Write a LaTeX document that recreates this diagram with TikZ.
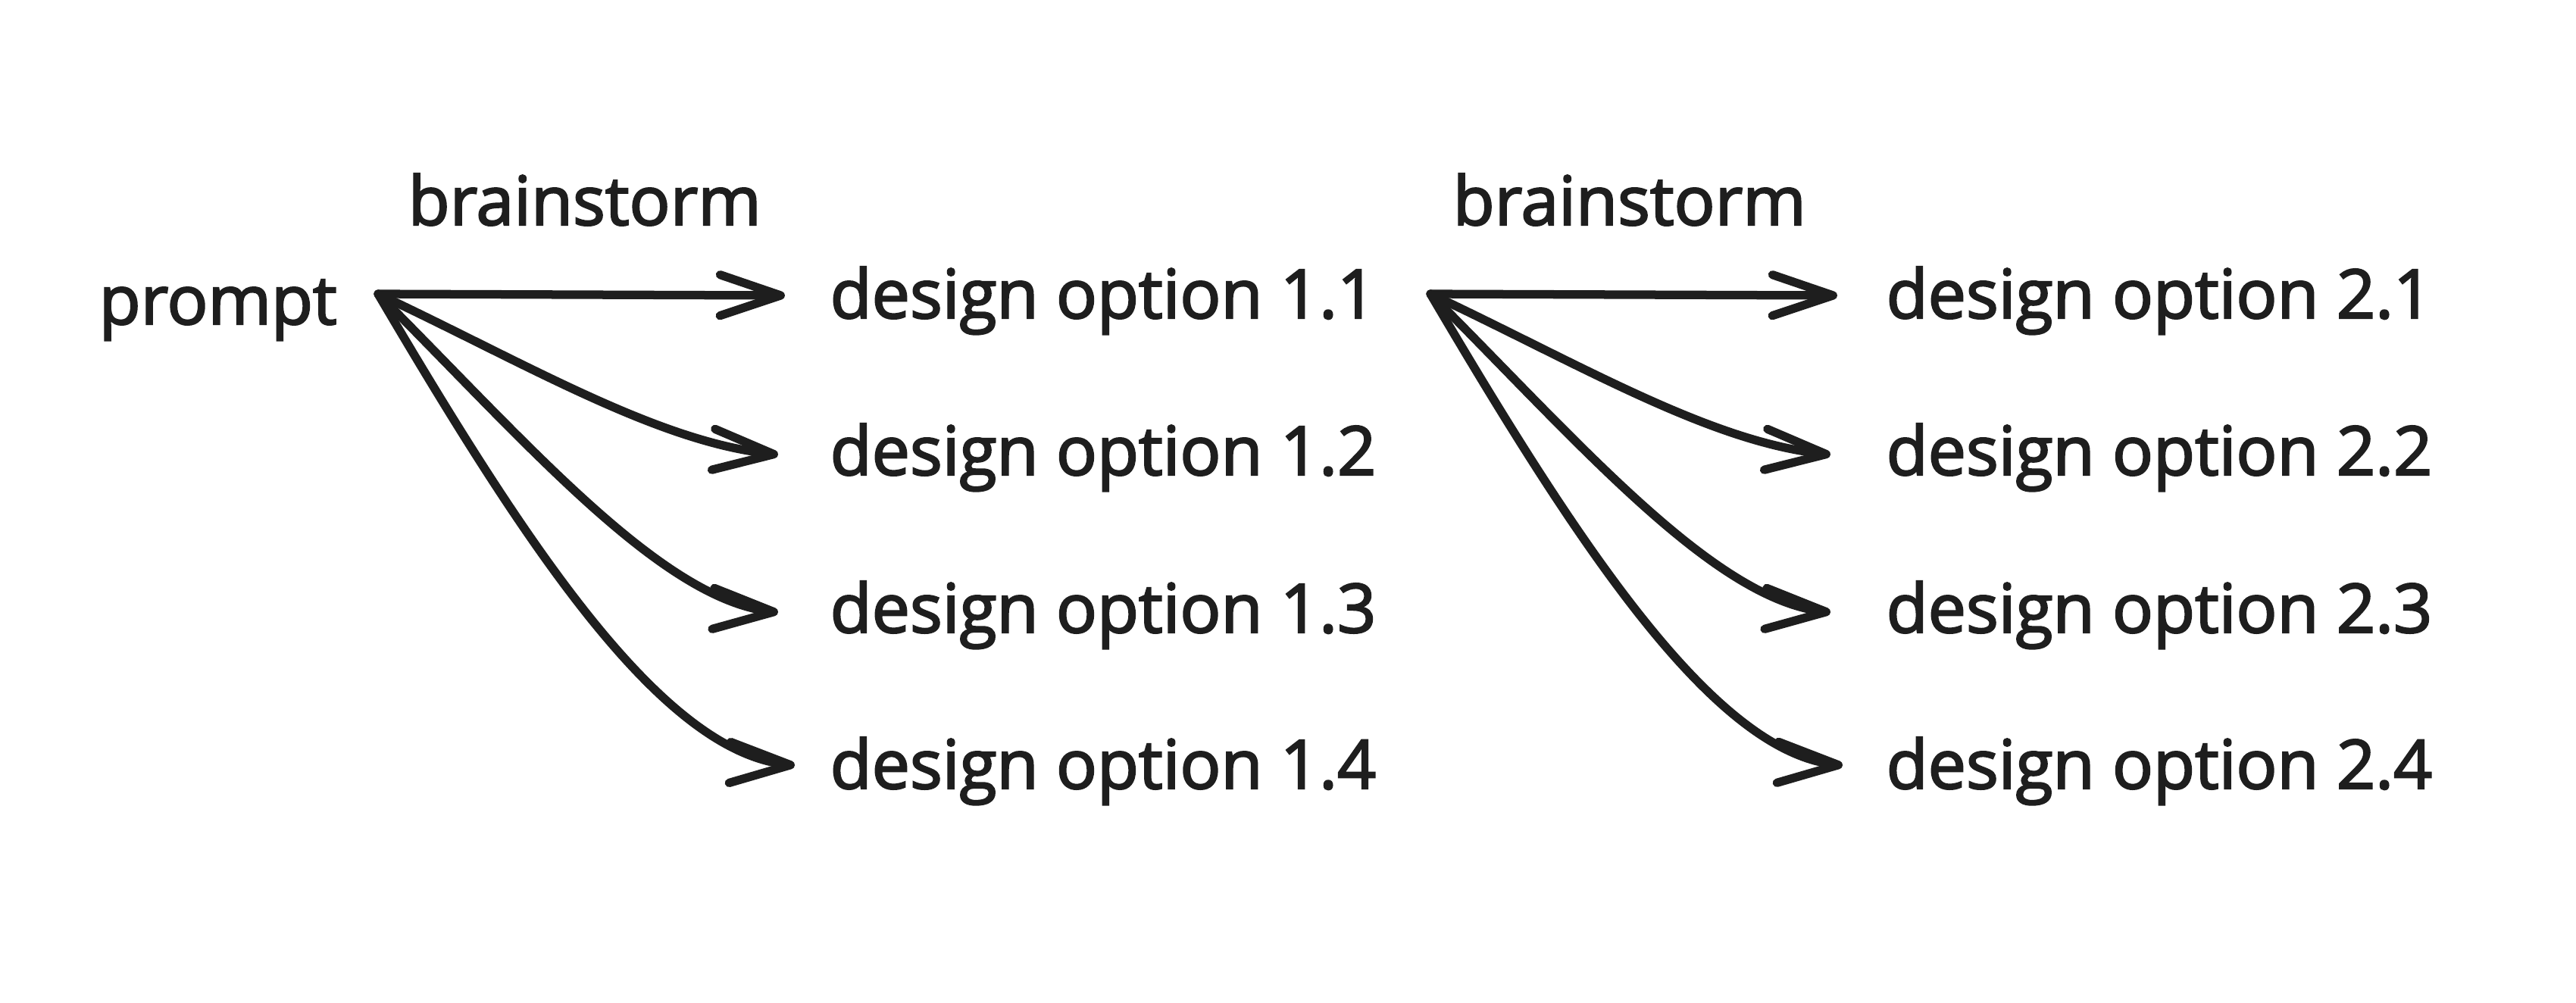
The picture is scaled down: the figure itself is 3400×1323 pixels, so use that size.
\documentclass[tikz,border=0pt]{standalone}
\usepackage{fontspec}
\setmainfont{Open Sans}[FakeBold=2.5]
\usetikzlibrary{arrows.meta,bending}
\definecolor{ink}{HTML}{1E1E1E}
\begin{document}
\begin{tikzpicture}[x=0.01cm,y=-0.01cm,
  lbl/.style={inner sep=0pt,anchor=base west,text=ink,font=\fontsize{25.5}{30}\selectfont},
  conn/.style={draw=ink,line width=3.2pt,line cap=round,line join=round,
    -{Straight Barb[length=0.8cm,width=0.54cm,line cap=round,line join=round,flex]}}]
\useasboundingbox[fill=white] (0,0) rectangle (3400,1323);
% nodes
\node[lbl] (prompt) at (130,428) {prompt};
\node[lbl] (b1) at (538,297) {brainstorm};
\node[lbl] (b2) at (1917,297) {brainstorm};
\node[lbl] (d11) at (1095,420) {design option 1.1};
\node[lbl] (d12) at (1095,627) {design option 1.2};
\node[lbl] (d13) at (1095,835) {design option 1.3};
\node[lbl] (d14) at (1095,1041) {design option 1.4};
\node[lbl] (d21) at (2489,420) {design option 2.1};
\node[lbl] (d22) at (2489,627) {design option 2.2};
\node[lbl] (d23) at (2489,835) {design option 2.3};
\node[lbl] (d24) at (2489,1041) {design option 2.4};
% start points
\coordinate (s1) at (499,388);
\coordinate (s2) at (1888,388);
% end points
\coordinate (t11) at (1036,390);
\coordinate (t12) at (1027,600);
\coordinate (t13) at (1027,808);
\coordinate (t14) at (1049,1010);
\coordinate (t21) at (2425,390);
\coordinate (t22) at (2416,600);
\coordinate (t23) at (2416,808);
\coordinate (t24) at (2432,1010);
% connectors
\path[conn] (s1) -- (t11);
\path[conn] (s1) .. controls (699,482) and (875,588) .. (t12);
\path[conn] (s1) .. controls (699,588) and (880,800) .. (t13);
\path[conn] (s1) .. controls (699,728) and (880,1003) .. (t14);
\path[conn] (s2) -- (t21);
\path[conn] (s2) .. controls (2088,482) and (2264,588) .. (t22);
\path[conn] (s2) .. controls (2088,588) and (2269,800) .. (t23);
\path[conn] (s2) .. controls (2088,728) and (2269,1003) .. (t24);
\end{tikzpicture}
\end{document}
